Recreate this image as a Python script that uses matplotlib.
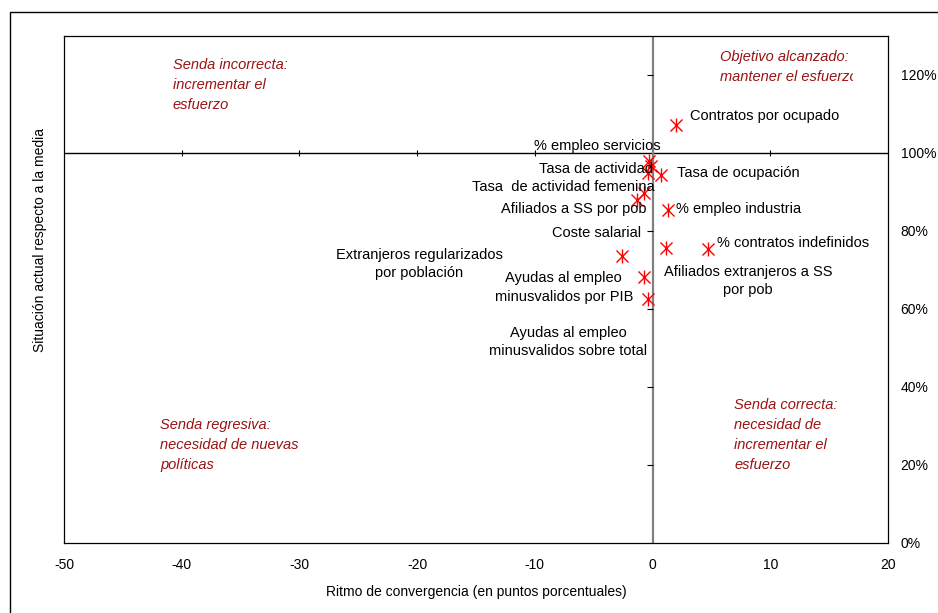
import numpy as np
import matplotlib
matplotlib.use("Agg")
import matplotlib.pyplot as plt
from matplotlib.patches import Rectangle
from matplotlib.transforms import Bbox, TransformedBbox

plt.rcParams['font.family'] = ['Liberation Sans', 'DejaVu Sans']

# indicators: convergence pace (pp) vs current situation (% of average)
indicators = ['Contratos por ocupado', '% empleo servicios', 'Tasa de actividad',
              'Tasa de ocupación', 'Tasa  de actividad femenina', 'Afiliados a SS por pob',
              '% empleo industria', 'Coste salarial', 'Extranjeros regularizados\npor población',
              '% contratos indefinidos', 'Afiliados extranjeros a SS\npor pob',
              'Ayudas al empleo\nminusvalidos por PIB', 'Ayudas al empleo\nminusvalidos sobre total']
ritmo = [1.95, -0.3, -0.1, 0.7, -0.35, -1.3, 1.3, -0.7, -2.6, 4.7, 1.15, -0.7, -0.35]
situacion = [107.2, 97.9, 96.6, 94.4, 94.8, 88.0, 85.4, 89.7, 73.6, 75.5, 75.6, 68.1, 62.6]

x_ticks = [-50, -40, -30, -20, -10, 0, 10, 20]
y_ticks = [0, 20, 40, 60, 80, 100, 120]

quadrants = ['Senda incorrecta:\nincrementar el\nesfuerzo',
             'Objetivo alcanzado:\nmantener el esfuerzo',
             'Senda regresiva:\nnecesidad de nuevas\npolíticas',
             'Senda correcta:\nnecesidad de\nincrementar el\nesfuerzo']

# label anchors (layout only)
label_pos = [(3.2, 109.5, 'left'), (-10.1, 101.9, 'left'), (0.0, 95.9, 'right'),
             (2.05, 94.9, 'left'), (0.15, 91.2, 'right'), (-0.5, 85.6, 'right'),
             (1.95, 85.6, 'left'), (-1.0, 79.6, 'right'), (-19.8, 71.5, 'center'),
             (5.45, 76.8, 'left'), (8.1, 67.2, 'center'), (-7.55, 65.5, 'center'),
             (-7.15, 51.5, 'center')]
quad_pos = [(-40.75, 117.4), (5.73, 122.1), (-41.85, 25.1), (6.92, 27.6)]

fig = plt.figure(figsize=(9.38, 6.13), dpi=100)
fig.patches.append(Rectangle((10 / 938, -0.2), 1.2, 1.2 - 12 / 613, transform=fig.transFigure,
                             fill=False, edgecolor='black', linewidth=1.0))
ax = fig.add_axes([64 / 938, 1 - 543 / 613, 824 / 938, 507 / 613])

ax.set_xlim(-50, 20)
ax.set_ylim(0, 130)

# crossing axes
ax.axhline(100, color='black', linewidth=1.0, zorder=1)
ax.axvline(0, color='#808080', linewidth=1.6, zorder=1)
ax.plot([t for t in x_ticks if -50 < t < 20 and t != 0], [100] * 5, linestyle='none',
        marker='|', markersize=4, color='black', markeredgewidth=0.8)
ax.plot([0] * 5, [t for t in y_ticks if 0 < t < 130 and t != 100], linestyle='none',
        marker=0, markersize=4, color='black', markeredgewidth=0.8)

# asterisk markers
ax.scatter(ritmo, situacion, marker='x', s=75, color='#FF0000', linewidths=1.0, zorder=3)
ax.scatter(ritmo, situacion, marker='|', s=110, color='#FF0000', linewidths=1.0, zorder=3)

for name, (lx, ly, ha) in zip(indicators, label_pos):
    ax.text(lx, ly, name, ha=ha, va='center', fontsize=10.5, linespacing=1.4, zorder=4)

for i, (q, (qx, qy)) in enumerate(zip(quadrants, quad_pos)):
    t = ax.text(qx, qy, q, ha='left', va='center', fontsize=10.5, style='italic',
                color='#9a1212', linespacing=1.55)
    if i == 1:
        t.set_clip_box(TransformedBbox(Bbox.from_extents(-50, 0, 17.0, 130), ax.transData))
        t.set_clip_on(True)

for s in ax.spines.values():
    s.set_linewidth(0.9)
    s.set_color('black')

ax.set_xticks(x_ticks)
ax.set_xticklabels([str(t) for t in x_ticks])
ax.set_yticks(y_ticks)
ax.set_yticklabels([f'{t}%' for t in y_ticks])
ax.yaxis.tick_right()
ax.tick_params(axis='both', length=0, labelsize=10)
ax.tick_params(axis='x', pad=11)
ax.tick_params(axis='y', pad=9)

ax.set_xlabel('Ritmo de convergencia (en puntos porcentuales)', fontsize=10, labelpad=9)
fig.text(40 / 938, 1 - 240 / 613, 'Situación actual respecto a la media', rotation=90,
         ha='center', va='center', fontsize=10)

fig.savefig('out.png', dpi=100)
